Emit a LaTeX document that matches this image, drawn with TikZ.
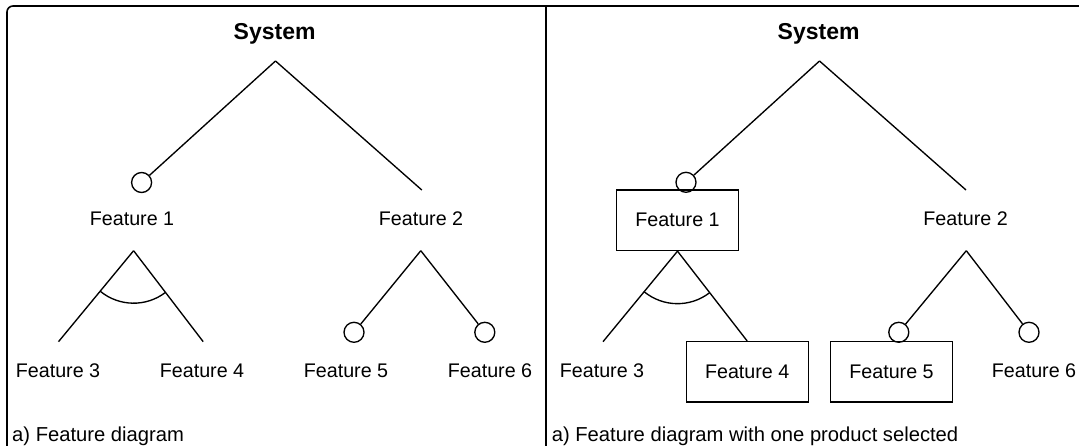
\documentclass[tikz,border=0pt]{standalone}
\usepackage{fontspec}
\setmainfont{Liberation Sans}
\usetikzlibrary{calc}
\begin{document}
\begin{tikzpicture}[x=1pt,y=1pt,
  edge/.style={line width=1.35pt},
  frame/.style={line width=1.6pt},
  opt/.style={draw,circle,line width=1.35pt,minimum size=20pt,inner sep=0pt},
  lbl/.style={inner sep=0pt,font=\fontsize{19.7}{23}\selectfont},
  sel/.style={draw,line width=1.35pt,minimum width=122pt,minimum height=60.4pt,inner sep=0pt,font=\fontsize{19.7}{23}\selectfont},
  ttl/.style={inner sep=0pt,anchor=base,font=\fontsize{23}{27}\selectfont\bfseries},
  capt/.style={inner sep=0pt,anchor=base west,font=\fontsize{20.2}{24}\selectfont}]
\useasboundingbox (0,0) rectangle (1079,-446);
\clip (0,0) rectangle (1079,-446);
% frame and divider
\draw[frame,rounded corners=6pt] (7,-6) rectangle (1100,-470);
\coordinate (divtop) at (545.7,-6);
\coordinate (divbot) at (545.7,-460);
\draw[frame] (divtop) -- (divbot);

% ---------- left panel ----------
\node[ttl] (sysA) at (274.6,-39.6) {System};
\coordinate (topA) at (275.5,-61);
\node[opt] (cA1) at (141.6,-182.5) {};
\coordinate (endA2) at (421.8,-190);
\draw[edge] (topA) -- (cA1);
\draw[edge] (topA) -- (endA2);
\node[lbl] (fA1) at (132,-219) {Feature 1};
\node[lbl] (fA2) at (421,-219) {Feature 2};
% Feature 1 subtree (alternative)
\coordinate (apA1) at (133.6,-250.7);
\coordinate (endA3) at (58.5,-341.7);
\coordinate (endA4) at (203.2,-341.7);
\draw[edge] (apA1) -- (endA3);
\draw[edge] (apA1) -- (endA4);
\draw[edge] ($(apA1)+(230.5:52.5)$) arc[start angle=230.5,end angle=307.4,radius=52.5];
% Feature 2 subtree
\coordinate (apA2) at (420.8,-250.7);
\node[opt] (cA5) at (354,-332.3) {};
\node[opt] (cA6) at (484.8,-332.3) {};
\draw[edge] (apA2) -- (cA5);
\draw[edge] (apA2) -- (cA6);
\node[lbl] (fA3) at (58,-370.7) {Feature 3};
\node[lbl] (fA4) at (202,-370.7) {Feature 4};
\node[lbl] (fA5) at (346,-370.7) {Feature 5};
\node[lbl] (fA6) at (490,-370.7) {Feature 6};
\node[capt] (capA) at (12,-441) {a) Feature diagram};

% ---------- right panel ----------
\node[ttl] (sysB) at (818.6,-39.6) {System};
\coordinate (topB) at (819.5,-61);
\node[opt] (cB1) at (686,-182.3) {};
\coordinate (endB2) at (966,-190);
\draw[edge] (topB) -- (cB1);
\draw[edge] (topB) -- (endB2);
\node[sel] (fB1) at (677.5,-220.3) {Feature 1};
\node[lbl] (fB2) at (965.6,-219) {Feature 2};
% Feature 1 subtree (alternative)
\coordinate (endB3) at (603,-341.7);
\node[sel] (fB4) at (747.2,-371.9) {Feature 4};
\draw[edge] (fB1.south) -- (endB3);
\draw[edge] (fB1.south) -- (fB4.north);
\draw[edge] ($(fB1.south)+(230.5:52.5)$) arc[start angle=230.5,end angle=307.4,radius=52.5];
% Feature 2 subtree
\coordinate (apB2) at (966.3,-250.7);
\node[opt] (cB5) at (898.8,-332.3) {};
\node[opt] (cB6) at (1029,-332.3) {};
\draw[edge] (apB2) -- (cB5);
\draw[edge] (apB2) -- (cB6);
\node[lbl] (fB3) at (602,-370.7) {Feature 3};
\node[sel] (fB5) at (891.5,-371.9) {Feature 5};
\node[lbl] (fB6) at (1034,-370.7) {Feature 6};
\node[capt] (capB) at (551.6,-441) {a) Feature diagram with one product selected};
\end{tikzpicture}
\end{document}
